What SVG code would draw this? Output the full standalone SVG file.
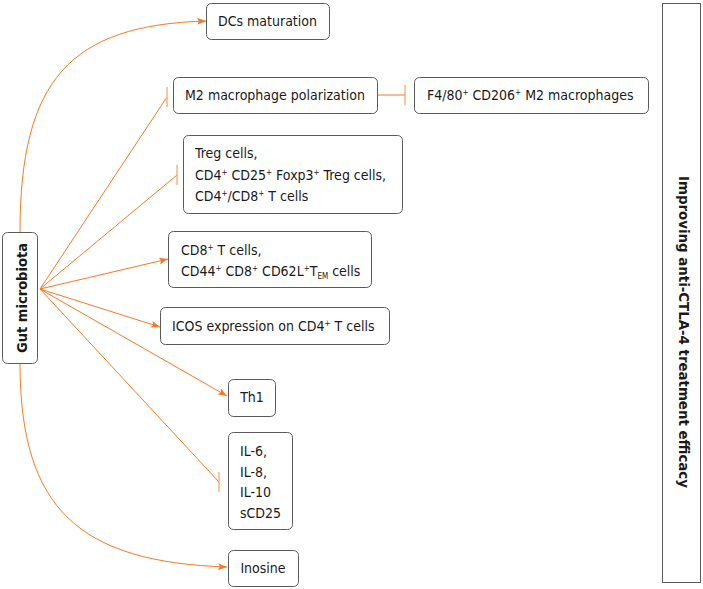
<svg xmlns="http://www.w3.org/2000/svg" width="703" height="589" viewBox="0 0 703 589">
<style>
.box{fill:#fff;stroke:#5a5a5a;stroke-width:1}
.t{font-family:"DejaVu Sans Condensed","DejaVu Sans",Verdana,sans-serif;font-stretch:condensed;font-size:14px;fill:#1a1a1a}
.b{font-family:"DejaVu Sans Condensed","DejaVu Sans",Verdana,sans-serif;font-stretch:condensed;font-size:14px;font-weight:bold;fill:#1a1a1a}
.c{fill:none;stroke:#F47B25;stroke-width:1}
.bar{fill:none;stroke:#F5A060;stroke-width:1.2}
</style>
<defs>
<marker id="arr" markerUnits="userSpaceOnUse" markerWidth="10" markerHeight="8" refX="9" refY="3.5" orient="auto">
<path d="M0,0 L9,3.5 L0,7 L2,3.5 z" fill="#F47B25"/>
</marker>
</defs>
<rect width="703" height="589" fill="#fff"/>
<g id="connectors">
<path class="c" d="M20,232 C20,80 70,25 206,21" marker-end="url(#arr)"/>
<path class="c" d="M20,363 C20,510 80,562 227,567" marker-end="url(#arr)"/>
<line class="c" x1="40" y1="289" x2="167" y2="97"/>
<line class="bar" x1="167" y1="87" x2="167" y2="107"/>
<line class="c" x1="40" y1="289" x2="177" y2="175"/>
<line class="bar" x1="177" y1="165" x2="177" y2="185"/>
<line class="c" x1="40" y1="289" x2="168" y2="259" marker-end="url(#arr)"/>
<line class="c" x1="40" y1="289" x2="160" y2="327" marker-end="url(#arr)"/>
<line class="c" x1="40" y1="289" x2="227" y2="396" marker-end="url(#arr)"/>
<line class="c" x1="40" y1="289" x2="219" y2="482"/>
<line class="bar" x1="219" y1="472" x2="219" y2="492"/>
<line class="c" x1="377" y1="95" x2="405" y2="95"/>
<line class="bar" x1="405" y1="85" x2="405" y2="105"/>
</g>
<g id="gut">
<rect class="box" x="2.5" y="232.5" width="35" height="131" rx="5"/>
<text class="b" transform="translate(26.5,298) rotate(-90)" text-anchor="middle" textLength="110" lengthAdjust="spacingAndGlyphs">Gut microbiota</text>
</g>
<g id="dcs">
<rect class="box" x="206.5" y="3.5" width="123" height="36" rx="5"/>
<text class="t" x="218" y="26">DCs maturation</text>
</g>
<g id="m2">
<rect class="box" x="173.5" y="77.5" width="204" height="36" rx="5"/>
<text class="t" x="185" y="100">M2 macrophage polarization</text>
</g>
<g id="f480">
<rect class="box" x="414.5" y="77.5" width="234" height="36" rx="5"/>
<text class="t" x="427" y="100">F4/80<tspan dy="-5" font-size="8">+</tspan><tspan dy="5"> CD206</tspan><tspan dy="-5" font-size="8">+</tspan><tspan dy="5"> M2 macrophages</tspan></text>
</g>
<g id="treg">
<rect class="box" x="183.5" y="135.5" width="219" height="78" rx="5"/>
<text class="t" x="195" y="158">Treg cells,</text>
<text class="t" x="195" y="180">CD4<tspan dy="-5" font-size="8">+</tspan><tspan dy="5"> CD25</tspan><tspan dy="-5" font-size="8">+</tspan><tspan dy="5"> Foxp3</tspan><tspan dy="-5" font-size="8">+</tspan><tspan dy="5"> Treg cells,</tspan></text>
<text class="t" x="195" y="201">CD4<tspan dy="-5" font-size="8">+</tspan><tspan dy="5">/CD8</tspan><tspan dy="-5" font-size="8">+</tspan><tspan dy="5"> T cells</tspan></text>
</g>
<g id="cd8">
<rect class="box" x="168.5" y="231.5" width="203" height="56" rx="5"/>
<text class="t" x="181" y="255">CD8<tspan dy="-5" font-size="8">+</tspan><tspan dy="5"> T cells,</tspan></text>
<text class="t" x="181" y="276">CD44<tspan dy="-5" font-size="8">+</tspan><tspan dy="5"> CD8</tspan><tspan dy="-5" font-size="8">+</tspan><tspan dy="5"> CD62L</tspan><tspan dy="-5" font-size="8">+</tspan><tspan dy="5">T</tspan><tspan dy="3" font-size="8">EM</tspan><tspan dy="-3"> cells</tspan></text>
</g>
<g id="icos">
<rect class="box" x="160.5" y="307.5" width="229" height="37" rx="5"/>
<text class="t" x="172" y="331">ICOS expression on CD4<tspan dy="-5" font-size="8">+</tspan><tspan dy="5"> T cells</tspan></text>
</g>
<g id="th1">
<rect class="box" x="228.5" y="379.5" width="47" height="37" rx="5"/>
<text class="t" x="252" y="402" text-anchor="middle">Th1</text>
</g>
<g id="il">
<rect class="box" x="228.5" y="432.5" width="64" height="97" rx="5"/>
<text class="t" x="240" y="456">IL-6,</text>
<text class="t" x="240" y="477">IL-8,</text>
<text class="t" x="240" y="497">IL-10</text>
<text class="t" x="240" y="518">sCD25</text>
</g>
<g id="inosine">
<rect class="box" x="228.5" y="550.5" width="70" height="36" rx="5"/>
<text class="t" x="263" y="573" text-anchor="middle">Inosine</text>
</g>
<g id="efficacy">
<rect class="box" x="662.5" y="3.5" width="38" height="579"/>
<text class="b" transform="translate(679,332) rotate(90)" text-anchor="middle" textLength="312" lengthAdjust="spacingAndGlyphs">Improving anti-CTLA-4 treatment efficacy</text>
</g>
</svg>
